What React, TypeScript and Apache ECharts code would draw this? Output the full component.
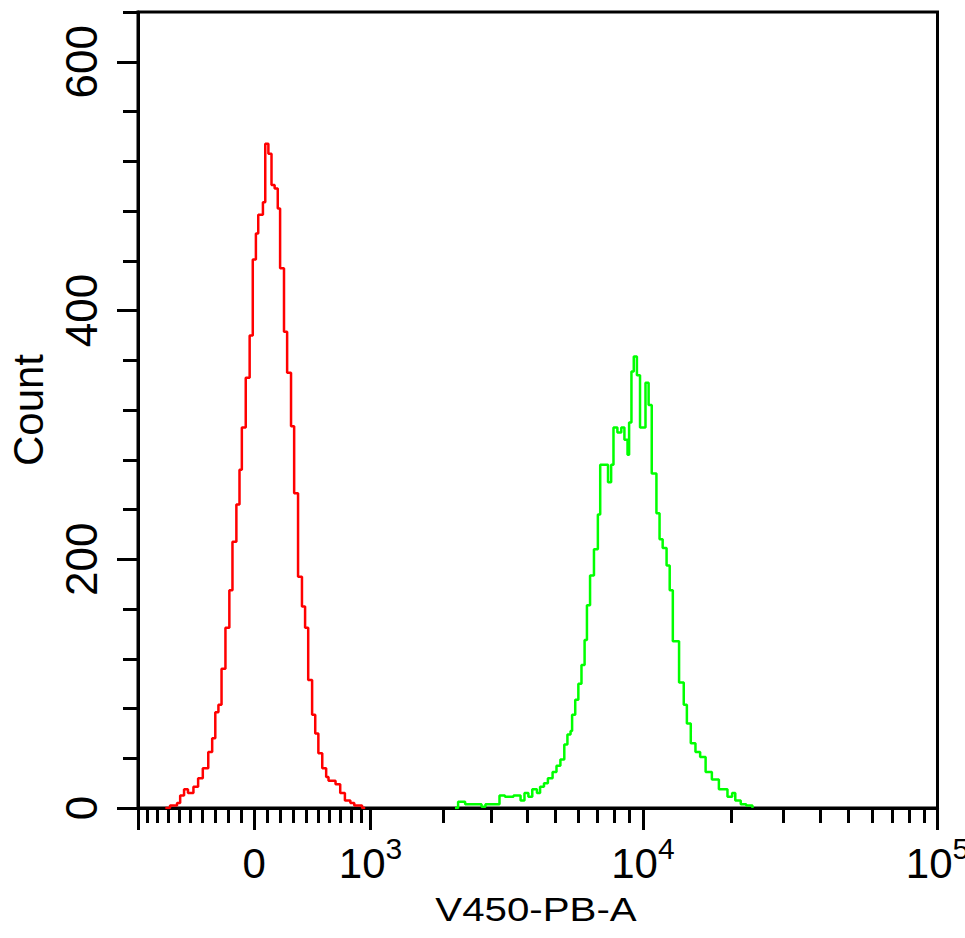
import React, { useEffect, useRef } from "react";
import * as echarts from "echarts";

// Histogram data: x in display channels (0..1024 across the biexponential axis), y = count
const redChannels = [35, 41, 50, 54, 59, 64, 71, 77, 83, 90, 95, 99, 103, 107, 112, 117, 121, 126, 130, 133, 138, 143, 147, 151, 154, 160, 163, 167, 171, 175, 179, 182, 187, 191, 196, 200, 205, 210, 214, 218, 223, 227, 231, 236, 241, 244, 253, 259, 265, 272, 277, 282, 287, 291];
const redCounts = [0, 2, 4, 10, 15, 12, 17, 24, 32, 45, 56, 77, 83, 112, 145, 175, 214, 244, 272, 306, 346, 380, 441, 462, 477, 487, 534, 526, 501, 498, 482, 434, 383, 350, 307, 253, 186, 162, 145, 103, 75, 60, 44, 32, 25, 22, 19, 12, 6, 4, 2, 2, 0, 0];

const greenChannels = [406, 410, 419, 440, 445, 463, 470, 481, 490, 495, 500, 505, 511, 515, 520, 525, 531, 536, 541, 546, 550, 554, 556, 560, 564, 568, 572, 575, 579, 584, 589, 592, 602, 606, 609, 614, 619, 623, 627, 629, 632, 635, 639, 643, 650, 654, 658, 664, 668, 672, 677, 681, 685, 693, 699, 703, 708, 714, 720, 727, 735, 744, 755, 761, 765, 772, 779, 787];
const greenCounts = [0, 5, 3, 1, 3, 10, 9, 10, 6, 12, 9, 15, 12, 17, 20, 24, 29, 34, 39, 51, 59, 62, 75, 87, 100, 115, 135, 163, 187, 208, 236, 276, 262, 276, 306, 302, 306, 296, 284, 310, 351, 363, 348, 306, 342, 324, 269, 237, 216, 209, 195, 175, 134, 101, 83, 68, 52, 45, 41, 29, 23, 15, 9, 12, 6, 3, 2, 0];

// Biexponential x axis (fluorescence intensity values)
const xLow = -1000;
const xHigh = 100000;
const biexWidth = 964;
const channelCount = 1024;
const majorTickValues = [-1000, 0, 1000, 10000, 100000];
const minorTickValues = [
  -900, -800, -700, -600, -500, -400, -300, -200, -100,
  100, 200, 300, 400, 500, 600, 700, 800, 900,
  2000, 3000, 4000, 5000, 6000, 7000, 8000, 9000,
  20000, 30000, 40000, 50000, 60000, 70000, 80000, 90000,
];
const labelTickValues = [0, 1000, 10000, 100000];
const labelBases = ["0", "10", "10", "10"];
const labelExponents = ["", "3", "4", "5"];

// Y axis
const yMax = 640;
const yMinorStep = 40;
const yLabelValues = [0, 200, 400, 600];

const xTitle = "V450-PB-A";
const yTitle = "Count";

const FONT = "'Liberation Sans', Arial, Helvetica, sans-serif";

const toChannel = (v: number) => {
  const t = (x: number) => Math.asinh(x / biexWidth);
  return ((t(v) - t(xLow)) / (t(xHigh) - t(xLow))) * channelCount;
};

export default function App() {
  const ref = useRef<HTMLDivElement>(null);

  useEffect(() => {
    document.body.style.margin = "0";
    document.body.style.overflow = "hidden";
    if (!ref.current) return;
    const chart = echarts.init(ref.current, undefined, { renderer: "svg" });

    const labelChannels = labelTickValues.map(toChannel);
    const formatter = (value: number) => {
      let best = 0;
      let bestD = Infinity;
      labelChannels.forEach((c, i) => {
        const d = Math.abs(c - value);
        if (d < bestD) {
          bestD = d;
          best = i;
        }
      });
      const exp = labelExponents[best];
      return exp ? `{b|${labelBases[best]}}{s|${exp}}` : `{b|${labelBases[best]}}`;
    };

    const black = "#000000";

    chart.setOption({
      animation: false,
      backgroundColor: "#ffffff",
      grid: {
        left: 138,
        right: 27.5,
        top: 12,
        bottom: 130,
        show: true,
        borderColor: black,
        borderWidth: 3,
        backgroundColor: "transparent",
        containLabel: false,
        outerBoundsMode: "none",
      },
      xAxis: [
        {
          type: "value",
          min: 0,
          max: channelCount,
          position: "bottom",
          axisLine: { show: true, onZero: false, lineStyle: { color: black, width: 3 } },
          axisTick: {
            show: true,
            length: 15,
            lineStyle: { color: black, width: 3 },
            customValues: minorTickValues.map(toChannel),
          },
          axisLabel: {
            show: true,
            customValues: labelChannels,
            formatter,
            margin: 25,
            hideOverlap: false,
            rich: {
              b: { fontSize: 42, fontFamily: FONT, color: black, lineHeight: 60 },
              s: { fontSize: 30, fontFamily: FONT, color: black, lineHeight: 30, verticalAlign: "top" },
            },
          },
          splitLine: { show: false },
        },
        {
          type: "value",
          min: 0,
          max: channelCount,
          position: "bottom",
          axisLine: { show: false, onZero: false },
          axisTick: {
            show: true,
            length: 22,
            lineStyle: { color: black, width: 3 },
            customValues: majorTickValues.map(toChannel),
          },
          axisLabel: { show: false },
          splitLine: { show: false },
        },
      ],
      yAxis: [
        {
          type: "value",
          min: 0,
          max: yMax,
          interval: yMinorStep,
          position: "left",
          name: yTitle,
          nameLocation: "middle",
          nameRotate: 90,
          nameGap: 89,
          nameTextStyle: { fontSize: 42, fontFamily: FONT, color: black },
          axisLine: { show: true, lineStyle: { color: black, width: 3 } },
          axisTick: { show: true, length: 15, lineStyle: { color: black, width: 3 } },
          axisLabel: {
            show: true,
            customValues: yLabelValues,
            rotate: 90,
            margin: 35,
            fontSize: 44,
            fontFamily: FONT,
            color: black,
          },
          splitLine: { show: false },
        },
        {
          type: "value",
          min: 0,
          max: yMax,
          position: "left",
          axisLine: { show: false },
          axisTick: {
            show: true,
            length: 21,
            lineStyle: { color: black, width: 3 },
            customValues: yLabelValues,
          },
          axisLabel: { show: false },
          splitLine: { show: false },
        },
      ],
      graphic: [
        {
          type: "text",
          x: 536,
          y: 910,
          scaleX: 1.22,
          style: {
            text: xTitle,
            fontSize: 33,
            fontFamily: FONT,
            fill: black,
            textAlign: "center",
            textVerticalAlign: "middle",
            verticalAlign: "middle",
          },
        },
      ],
      series: [
        {
          type: "line",
          name: "unstained",
          xAxisIndex: 0,
          yAxisIndex: 0,
          step: "end",
          symbol: "none",
          showSymbol: false,
          data: redChannels.map((c, i) => [c, redCounts[i]]),
          lineStyle: { color: "#ff0000", width: 2.5 },
          itemStyle: { color: "#ff0000" },
          z: 3,
        },
        {
          type: "line",
          name: "stained",
          xAxisIndex: 0,
          yAxisIndex: 0,
          step: "end",
          symbol: "none",
          showSymbol: false,
          data: greenChannels.map((c, i) => [c, greenCounts[i]]),
          lineStyle: { color: "#00ff00", width: 2.5 },
          itemStyle: { color: "#00ff00" },
          z: 3,
        },
      ],
    });

    return () => chart.dispose();
  }, []);

  return <div ref={ref} style={{ width: 965, height: 938 }} />;
}
